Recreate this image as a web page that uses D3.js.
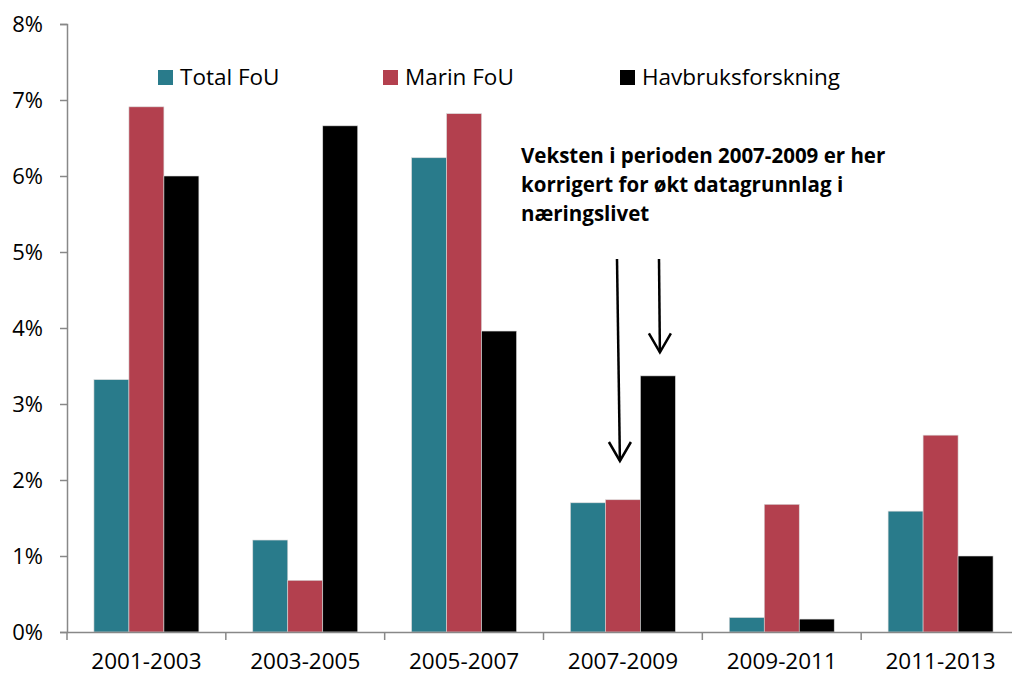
<!DOCTYPE html>
<html>
<head>
<meta charset="utf-8">
<script src="https://cdn.jsdelivr.net/npm/d3@7"></script>
<style>
  body { margin: 0; background: #fff; }
  svg text { font-family: "Open Sans", "Noto Sans", sans-serif; fill: #000; }
</style>
</head>
<body>
<div id="chart"></div>
<script>
const periods = ['2001-2003', '2003-2005', '2005-2007', '2007-2009', '2009-2011', '2011-2013']
const seriesNames = ['Total FoU', 'Marin FoU', 'Havbruksforskning']
const totalFoU = [3.32, 1.21, 6.24, 1.70, 0.19, 1.59]
const marinFoU = [6.91, 0.68, 6.82, 1.74, 1.68, 2.59]
const havbruk = [6.00, 6.66, 3.96, 3.37, 0.17, 1.00]
const yTicks = [0, 1, 2, 3, 4, 5, 6, 7, 8]
const noteLines = ['Veksten i perioden 2007-2009 er her', 'korrigert for økt datagrunnlag i', 'næringslivet']

const COLORS = ['#297b8b', '#b3404e', '#000000']
const W = 1012
const H = 677
const M = {top: 24, right: -8, bottom: 45, left: 67}

const svg = d3.select('#chart').append('svg').attr('width', W).attr('height', H)

const x = d3.scaleBand().domain(periods).range([M.left, W - M.right]).paddingInner(0).paddingOuter(0)
const xs = d3.scaleBand().domain(seriesNames).range([0, x.bandwidth()]).paddingInner(0).paddingOuter(0.77)
const y = d3.scaleLinear().domain([0, 8]).range([H - M.bottom, M.top])

const rows = periods.map((p, i) => ({period: p, values: [totalFoU[i], marinFoU[i], havbruk[i]]}))

// bars
svg.append('g')
  .selectAll('g')
  .data(rows)
  .join('g')
  .attr('transform', d => `translate(${x(d.period)},0)`)
  .selectAll('rect')
  .data(d => d.values.map((v, k) => ({name: seriesNames[k], v, k})))
  .join('rect')
  .attr('x', d => xs(d.name))
  .attr('width', xs.bandwidth())
  .attr('y', d => y(d.v))
  .attr('height', d => y(0) - y(d.v))
  .attr('fill', d => COLORS[d.k])
  .attr('stroke', '#d9d9d9')
  .attr('stroke-width', 0.6)

// y axis
const yAxis = svg.append('g')
  .attr('transform', `translate(${M.left},0)`)
  .call(d3.axisLeft(y).tickValues(yTicks).tickFormat(d => d + '%').tickSize(7).tickPadding(17))
yAxis.select('.domain').attr('stroke', '#888').attr('stroke-width', 1.5)
yAxis.selectAll('.tick line').attr('stroke', '#888').attr('stroke-width', 1.5)
yAxis.selectAll('.tick text').attr('font-size', 22).attr('dy', '0.36em')

// x axis
const xAxis = svg.append('g')
  .attr('transform', `translate(0,${y(0)})`)
  .call(d3.axisBottom(x).tickSize(0).tickPadding(21))
xAxis.select('.domain').attr('stroke', '#888').attr('stroke-width', 1.5)
xAxis.selectAll('.tick text').attr('font-size', 22.5)
xAxis.selectAll('line.sep')
  .data(periods)
  .join('line')
  .attr('class', 'sep')
  .attr('x1', d => x(d)).attr('x2', d => x(d))
  .attr('y1', 0).attr('y2', 8)
  .attr('stroke', '#888').attr('stroke-width', 1.5)

// legend
const legendX = [158, 383, 620]
const legend = svg.append('g')
  .selectAll('g')
  .data(seriesNames)
  .join('g')
  .attr('transform', (d, i) => `translate(${legendX[i]},70)`)
legend.append('rect').attr('width', 15).attr('height', 15).attr('fill', (d, i) => COLORS[i])
legend.append('text').attr('x', 22).attr('y', 15).attr('font-size', 22.5).text(d => d)

// annotation
svg.append('g')
  .selectAll('text')
  .data(noteLines)
  .join('text')
  .attr('x', 521)
  .attr('y', (d, i) => 163 + i * 29)
  .attr('font-size', 20.5)
  .attr('font-weight', 'bold')
  .text(d => d)

// arrows pointing to 2007-2009 bars
const arrows = [
  {name: 'Marin FoU', x0: 617, y0: 259, tipVal: 2.25, dx: -3},
  {name: 'Havbruksforskning', x0: 659, y0: 259, tipVal: 3.68, dx: 2}
]
const ag = svg.append('g').attr('stroke', '#000').attr('stroke-width', 2.5).attr('fill', 'none')
arrows.forEach(a => {
  const tx = x('2007-2009') + xs(a.name) + xs.bandwidth() / 2 + a.dx
  const ty = y(a.tipVal)
  ag.append('line').attr('x1', a.x0).attr('y1', a.y0).attr('x2', tx).attr('y2', ty)
  ag.append('path').attr('d', `M${tx - 11},${ty - 19}L${tx},${ty}L${tx + 11},${ty - 19}`)
})
</script>
</body>
</html>
